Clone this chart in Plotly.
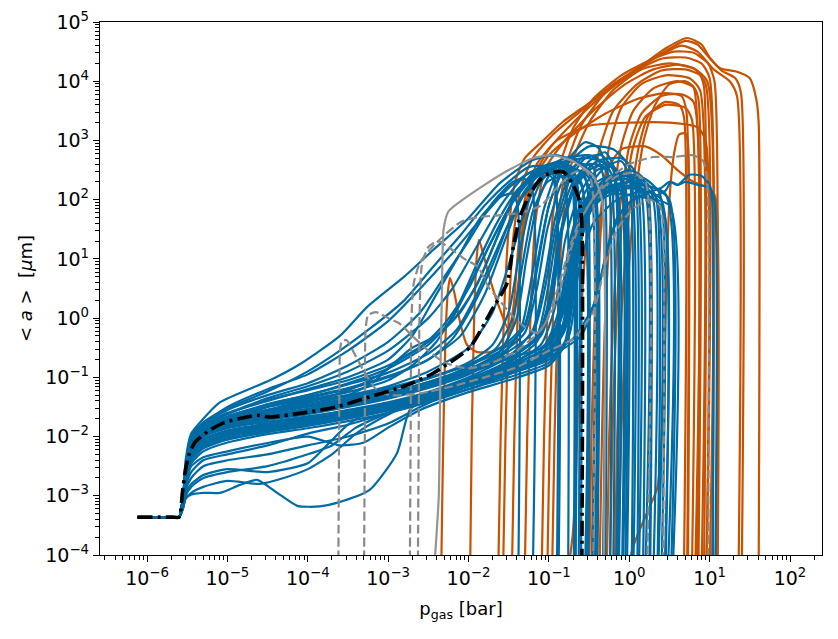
import plotly.graph_objects as go

BLUE = "#006BA4"
ORANGE = "#C85200"
GRAY = "#898989"

# All values are log10 exponents: [log10(p_gas / bar), log10(<a> / um)]
common_start = [[-6.12, -3.36], [-5.68, -3.36], [-5.6, -3.36]]

blue_upper = [
    [[-5.55,-3.0],[-5.52,-2.4],[-5.45,-1.95],[-5.3,-1.7],[-5.09,-1.42],[-4.47,-1.05],[-4.1,-0.78],[-3.6,-0.3],[-3.26,0.19],[-2.8,0.7],[-2.44,1.15],[-2.02,1.66],[-1.61,2.28],[-1.2,2.67],[-0.9,2.75],[-0.6,2.6],[-0.45,2.3],[-0.43,-4.3]],
    [[-5.55,-3.0],[-5.52,-2.5],[-5.45,-2.0],[-5.3,-1.78],[-5.0,-1.5],[-4.5,-1.2],[-4.0,-0.95],[-3.5,-0.55],[-3.0,-0.05],[-2.6,0.5],[-2.2,1.1],[-1.8,1.75],[-1.5,2.2],[-1.25,2.45],[-1.1,2.5],[-0.95,2.35],[-0.88,-4.3]],
    [[-5.55,-3.0],[-5.52,-2.5],[-5.45,-2.02],[-5.3,-1.8],[-5.0,-1.55],[-4.5,-1.3],[-4.0,-1.1],[-3.5,-0.8],[-3.0,-0.4],[-2.6,0.1],[-2.3,0.7],[-2.0,1.3],[-1.7,1.95],[-1.45,2.3],[-1.3,2.35],[-1.21,2.2],[-1.2,-4.3]],
    [[-5.55,-3.0],[-5.52,-2.6],[-5.45,-2.05],[-5.3,-1.82],[-5.0,-1.6],[-4.5,-1.4],[-4.0,-1.2],[-3.5,-1.0],[-3.0,-0.7],[-2.7,-0.3],[-2.4,0.4],[-2.1,1.1],[-1.85,1.7],[-1.6,2.05],[-1.45,2.1],[-1.39,1.9],[-1.38,-4.3]],
    [[-5.55,-3.0],[-5.52,-2.6],[-5.45,-2.08],[-5.3,-1.85],[-5.0,-1.62],[-4.5,-1.35],[-4.0,-1.15],[-3.5,-0.9],[-3.0,-0.55],[-2.5,0.0],[-2.2,0.5],[-1.9,1.2],[-1.6,1.9],[-1.3,2.4],[-1.0,2.6],[-0.7,2.65],[-0.5,2.5],[-0.35,2.1],[-0.33,-4.3]],
    [[-5.55,-3.0],[-5.52,-2.6],[-5.45,-2.1],[-5.3,-1.9],[-5.0,-1.7],[-4.5,-1.45],[-4.0,-1.3],[-3.5,-1.1],[-3.0,-0.85],[-2.5,-0.45],[-2.2,0.0],[-1.9,0.8],[-1.6,1.6],[-1.35,2.2],[-1.1,2.45],[-0.8,2.5],[-0.6,2.3],[-0.55,-4.3]],
    [[-5.55,-3.05],[-5.52,-2.7],[-5.45,-2.15],[-5.3,-1.92],[-5.0,-1.72],[-4.5,-1.5],[-4.0,-1.35],[-3.5,-1.2],[-3.0,-1.0],[-2.5,-0.7],[-2.1,-0.3],[-1.8,0.4],[-1.55,1.3],[-1.35,2.0],[-1.1,2.5],[-0.8,2.7],[-0.5,2.75],[-0.3,2.6],[-0.15,2.2],[-0.13,-4.3]],
    [[-5.55,-3.05],[-5.52,-2.7],[-5.45,-2.2],[-5.3,-2.0],[-5.0,-1.8],[-4.5,-1.55],[-4.0,-1.4],[-3.5,-1.3],[-3.0,-1.15],[-2.5,-0.9],[-2.0,-0.5],[-1.7,0.1],[-1.5,0.9],[-1.3,1.8],[-1.1,2.4],[-0.8,2.65],[-0.5,2.7],[-0.2,2.55],[-0.05,2.2],[-0.03,-4.3]],
    [[-5.55,-3.0],[-5.52,-2.55],[-5.45,-2.05],[-5.3,-1.83],[-5.0,-1.62],[-4.5,-1.38],[-4.0,-1.22],[-3.5,-1.05],[-3.0,-0.8],[-2.6,-0.5],[-2.3,-0.1],[-2.0,0.5],[-1.75,1.2],[-1.5,1.85],[-1.25,2.3],[-1.0,2.5],[-0.75,2.45],[-0.68,2.2],[-0.67,-4.3]],
    [[-5.55,-3.0],[-5.52,-2.6],[-5.45,-2.12],[-5.3,-1.9],[-5.0,-1.7],[-4.5,-1.5],[-4.0,-1.38],[-3.5,-1.25],[-3.0,-1.05],[-2.7,-0.8],[-2.4,-0.4],[-2.15,0.15],[-1.9,0.9],[-1.65,1.6],[-1.4,2.15],[-1.15,2.45],[-0.85,2.55],[-0.55,2.45],[-0.42,2.1],[-0.4,-4.3]],
    [[-5.55,-3.05],[-5.52,-2.65],[-5.45,-2.18],[-5.3,-1.97],[-5.0,-1.78],[-4.5,-1.6],[-4.0,-1.45],[-3.5,-1.3],[-3.2,-1.1],[-3.0,-0.85],[-2.7,-0.5],[-2.4,-0.3],[-2.1,0.1],[-1.85,0.7],[-1.6,1.5],[-1.4,2.1],[-1.15,2.5],[-0.9,2.6],[-0.7,2.5],[-0.64,2.2],[-0.63,-4.3]],
    [[-5.55,-3.0],[-5.52,-2.58],[-5.45,-2.06],[-5.3,-1.86],[-5.0,-1.66],[-4.5,-1.46],[-4.0,-1.3],[-3.5,-1.12],[-3.0,-0.92],[-2.5,-0.6],[-2.15,-0.2],[-1.9,0.4],[-1.7,1.0],[-1.5,1.6],[-1.3,2.1],[-1.05,2.4],[-0.8,2.45],[-0.6,2.25],[-0.53,-4.3]],
    [[-5.55,-3.0],[-5.52,-2.62],[-5.45,-2.1],[-5.3,-1.88],[-5.0,-1.68],[-4.5,-1.48],[-4.0,-1.33],[-3.5,-1.18],[-3.0,-0.98],[-2.5,-0.7],[-2.2,-0.35],[-1.95,0.2],[-1.7,0.9],[-1.5,1.6],[-1.3,2.15],[-1.05,2.5],[-0.8,2.6],[-0.6,2.45],[-0.47,2.1],[-0.46,-4.3]],
    [[-5.55,-3.0],[-5.52,-2.55],[-5.45,-2.0],[-5.3,-1.76],[-5.0,-1.52],[-4.5,-1.24],[-4.0,-0.9],[-3.6,-0.55],[-3.2,-0.15],[-2.8,0.3],[-2.45,0.85],[-2.1,1.4],[-1.8,1.9],[-1.5,2.3],[-1.25,2.55],[-1.0,2.55],[-0.92,2.3],[-0.9,-4.3]],
    [[-5.55,-3.05],[-5.52,-2.68],[-5.45,-2.17],[-5.3,-1.95],[-5.0,-1.76],[-4.5,-1.56],[-4.0,-1.42],[-3.5,-1.22],[-3.1,-0.95],[-2.8,-0.65],[-2.5,-0.4],[-2.2,-0.05],[-1.9,0.55],[-1.65,1.35],[-1.45,2.0],[-1.2,2.45],[-0.95,2.6],[-0.75,2.5],[-0.7,2.2],[-0.69,-4.3]],
]

blue_middle = [
    [[-5.55,-3.0],[-5.52,-2.6],[-5.45,-2.1],[-5.3,-1.9],[-5.0,-1.72],[-4.5,-1.6],[-4.0,-1.5],[-3.5,-1.38],[-3.0,-1.22],[-2.5,-1.02],[-2.0,-0.75],[-1.7,-0.45],[-1.5,0.1],[-1.38,1.0],[-1.25,1.8],[-1.1,2.3],[-0.95,2.5],[-0.82,2.35],[-0.77,1.9],[-0.76,-4.3]],
    [[-5.55,-3.0],[-5.52,-2.65],[-5.45,-2.15],[-5.3,-1.95],[-5.0,-1.8],[-4.5,-1.68],[-4.0,-1.58],[-3.5,-1.45],[-3.0,-1.3],[-2.5,-1.12],[-2.0,-0.88],[-1.6,-0.55],[-1.4,0.0],[-1.28,1.0],[-1.15,1.9],[-1.0,2.4],[-0.85,2.6],[-0.72,2.45],[-0.68,2.0],[-0.67,-4.3]],
    [[-5.55,-3.05],[-5.52,-2.7],[-5.45,-2.2],[-5.3,-2.0],[-5.0,-1.85],[-4.5,-1.72],[-4.0,-1.62],[-3.5,-1.5],[-3.0,-1.36],[-2.5,-1.18],[-2.0,-0.95],[-1.6,-0.65],[-1.35,-0.2],[-1.2,0.8],[-1.07,1.8],[-0.92,2.4],[-0.75,2.7],[-0.6,2.6],[-0.52,2.2],[-0.51,-4.3]],
    [[-5.55,-3.05],[-5.52,-2.7],[-5.45,-2.25],[-5.3,-2.05],[-5.0,-1.9],[-4.5,-1.78],[-4.0,-1.68],[-3.5,-1.55],[-3.0,-1.42],[-2.5,-1.25],[-2.0,-1.0],[-1.5,-0.65],[-1.2,-0.2],[-1.05,0.7],[-0.92,1.7],[-0.75,2.4],[-0.55,2.75],[-0.4,2.7],[-0.31,2.3],[-0.3,-4.3]],
    [[-5.55,-3.0],[-5.52,-2.6],[-5.45,-2.05],[-5.3,-1.85],[-5.0,-1.68],[-4.5,-1.55],[-4.0,-1.45],[-3.5,-1.32],[-3.0,-1.18],[-2.5,-1.0],[-2.0,-0.8],[-1.6,-0.55],[-1.3,-0.15],[-1.15,0.8],[-1.0,1.9],[-0.8,2.6],[-0.55,2.97],[-0.38,2.87],[-0.26,2.4],[-0.24,-4.3]],
    [[-5.55,-3.05],[-5.52,-2.75],[-5.45,-2.3],[-5.3,-2.1],[-5.0,-1.95],[-4.5,-1.82],[-4.0,-1.72],[-3.5,-1.6],[-3.0,-1.48],[-2.5,-1.3],[-2.0,-1.08],[-1.5,-0.75],[-1.15,-0.4],[-0.98,0.3],[-0.86,1.4],[-0.7,2.2],[-0.5,2.65],[-0.3,2.8],[-0.18,2.5],[-0.15,-4.3]],
    [[-5.55,-3.1],[-5.52,-2.8],[-5.45,-2.35],[-5.3,-2.15],[-5.0,-2.0],[-4.5,-1.87],[-4.0,-1.77],[-3.5,-1.65],[-3.0,-1.52],[-2.5,-1.35],[-2.0,-1.12],[-1.5,-0.8],[-1.1,-0.45],[-0.92,0.2],[-0.8,1.3],[-0.62,2.1],[-0.4,2.5],[-0.2,2.55],[-0.1,2.3],[-0.09,-4.3]],
    [[-5.55,-3.05],[-5.52,-2.7],[-5.45,-2.2],[-5.3,-2.0],[-5.0,-1.86],[-4.5,-1.75],[-4.0,-1.66],[-3.5,-1.56],[-3.0,-1.45],[-2.5,-1.28],[-2.0,-1.05],[-1.5,-0.78],[-1.05,-0.45],[-0.86,0.2],[-0.74,1.3],[-0.56,2.1],[-0.3,2.55],[-0.1,2.65],[0.0,2.4],[0.03,-4.3]],
    [[-5.55,-3.05],[-5.52,-2.75],[-5.45,-2.28],[-5.3,-2.1],[-5.0,-1.98],[-4.5,-1.86],[-4.0,-1.76],[-3.5,-1.64],[-3.0,-1.5],[-2.5,-1.32],[-2.0,-1.1],[-1.5,-0.85],[-1.0,-0.55],[-0.8,0.0],[-0.68,1.1],[-0.5,1.95],[-0.25,2.35],[0.0,2.45],[0.08,2.2],[0.1,-4.3]],
    [[-5.55,-3.1],[-5.52,-2.8],[-5.45,-2.4],[-5.3,-2.2],[-5.0,-2.05],[-4.5,-1.92],[-4.0,-1.82],[-3.5,-1.7],[-3.0,-1.56],[-2.5,-1.38],[-2.0,-1.15],[-1.5,-0.9],[-1.0,-0.62],[-0.78,-0.1],[-0.66,1.0],[-0.48,1.8],[-0.2,2.2],[0.05,2.3],[0.15,2.1],[0.17,-4.3]],
    [[-5.55,-3.05],[-5.52,-2.7],[-5.45,-2.18],[-5.3,-1.98],[-5.0,-1.82],[-4.5,-1.7],[-4.0,-1.6],[-3.5,-1.47],[-3.0,-1.33],[-2.5,-1.15],[-2.0,-0.92],[-1.5,-0.68],[-1.0,-0.45],[-0.82,0.1],[-0.7,1.2],[-0.5,2.0],[-0.25,2.35],[0.0,2.5],[0.15,2.4],[0.24,2.1],[0.26,-4.3]],
    [[-5.55,-3.0],[-5.52,-2.65],[-5.45,-2.12],[-5.3,-1.92],[-5.0,-1.76],[-4.5,-1.64],[-4.0,-1.54],[-3.5,-1.42],[-3.0,-1.27],[-2.5,-1.08],[-2.0,-0.82],[-1.65,-0.5],[-1.45,0.0],[-1.33,0.9],[-1.2,1.8],[-1.02,2.3],[-0.8,2.4],[-0.65,2.2],[-0.61,1.8],[-0.6,-4.3]],
    [[-5.55,-3.1],[-5.52,-2.85],[-5.45,-2.45],[-5.3,-2.25],[-5.0,-2.1],[-4.5,-1.96],[-4.0,-1.86],[-3.5,-1.74],[-3.0,-1.6],[-2.5,-1.42],[-2.0,-1.2],[-1.5,-0.95],[-1.0,-0.7],[-0.75,-0.3],[-0.63,0.8],[-0.45,1.6],[-0.15,2.0],[0.2,2.15],[0.4,2.0],[0.45,-4.3]],
    [[-5.55,-3.0],[-5.52,-2.62],[-5.45,-2.08],[-5.3,-1.88],[-5.0,-1.7],[-4.5,-1.58],[-4.0,-1.48],[-3.5,-1.35],[-3.0,-1.2],[-2.5,-1.02],[-2.0,-0.78],[-1.6,-0.5],[-1.3,-0.1],[-1.15,0.9],[-1.0,1.9],[-0.8,2.55],[-0.5,2.9],[-0.2,2.85],[0.0,2.55],[0.05,-4.3]],
    [[-5.55,-3.05],[-5.52,-2.72],[-5.45,-2.24],[-5.3,-2.04],[-5.0,-1.9],[-4.5,-1.8],[-4.0,-1.7],[-3.5,-1.58],[-3.0,-1.44],[-2.5,-1.26],[-2.0,-1.03],[-1.5,-0.72],[-1.15,-0.3],[-1.0,0.6],[-0.88,1.6],[-0.7,2.3],[-0.5,2.6],[-0.32,2.55],[-0.22,2.25],[-0.2,-4.3]],
    [[-5.55,-3.0],[-5.52,-2.68],[-5.45,-2.16],[-5.3,-1.96],[-5.0,-1.8],[-4.5,-1.68],[-4.0,-1.57],[-3.5,-1.44],[-3.0,-1.3],[-2.5,-1.12],[-2.0,-0.9],[-1.5,-0.62],[-1.1,-0.3],[-0.95,0.4],[-0.83,1.5],[-0.65,2.3],[-0.4,2.65],[-0.1,2.7],[0.08,2.45],[0.12,-4.3]],
    [[-5.55,-3.05],[-5.52,-2.78],[-5.45,-2.32],[-5.3,-2.12],[-5.0,-1.98],[-4.5,-1.85],[-4.0,-1.74],[-3.5,-1.62],[-3.0,-1.47],[-2.5,-1.3],[-2.0,-1.08],[-1.5,-0.82],[-1.1,-0.55],[-0.9,-0.1],[-0.78,0.9],[-0.6,1.7],[-0.35,2.1],[-0.15,2.2],[-0.06,2.0],[-0.05,-4.3]],
    [[-5.55,-3.05],[-5.52,-2.68],[-5.45,-2.18],[-5.3,-1.97],[-5.0,-1.83],[-4.5,-1.7],[-4.0,-1.6],[-3.5,-1.48],[-3.0,-1.34],[-2.5,-1.16],[-2.0,-0.93],[-1.5,-0.68],[-1.15,-0.35],[-1.0,0.3],[-0.88,1.3],[-0.72,2.1],[-0.5,2.5],[-0.25,2.6],[-0.1,2.4],[-0.08,-4.3]],
    [[-5.55,-3.05],[-5.52,-2.73],[-5.45,-2.26],[-5.3,-2.06],[-5.0,-1.92],[-4.5,-1.8],[-4.0,-1.7],[-3.5,-1.58],[-3.0,-1.45],[-2.5,-1.27],[-2.0,-1.04],[-1.5,-0.8],[-1.0,-0.5],[-0.85,0.0],[-0.73,1.0],[-0.56,1.9],[-0.3,2.35],[0.0,2.4],[0.18,2.25],[0.2,-4.3]],
    [[-5.55,-3.0],[-5.52,-2.62],[-5.45,-2.1],[-5.3,-1.9],[-5.0,-1.75],[-4.5,-1.63],[-4.0,-1.53],[-3.5,-1.4],[-3.0,-1.26],[-2.5,-1.08],[-2.0,-0.86],[-1.6,-0.6],[-1.3,-0.25],[-1.15,0.5],[-1.02,1.5],[-0.85,2.25],[-0.65,2.6],[-0.45,2.55],[-0.41,2.2],[-0.4,-4.3]],
    [[-5.55,-3.1],[-5.52,-2.77],[-5.45,-2.3],[-5.3,-2.1],[-5.0,-1.96],[-4.5,-1.84],[-4.0,-1.73],[-3.5,-1.61],[-3.0,-1.47],[-2.5,-1.29],[-2.0,-1.07],[-1.5,-0.83],[-1.0,-0.58],[-0.8,-0.15],[-0.7,0.8],[-0.55,1.7],[-0.3,2.1],[0.1,2.2],[0.33,2.05],[0.36,-4.3]],
    [[-5.55,-3.0],[-5.52,-2.66],[-5.45,-2.14],[-5.3,-1.94],[-5.0,-1.78],[-4.5,-1.66],[-4.0,-1.56],[-3.5,-1.43],[-3.0,-1.28],[-2.5,-1.1],[-2.0,-0.87],[-1.55,-0.6],[-1.2,-0.25],[-1.05,0.5],[-0.92,1.5],[-0.75,2.3],[-0.55,2.7],[-0.35,2.75],[-0.2,2.5],[-0.16,-4.3]],
    [[-5.55,-3.1],[-5.52,-2.82],[-5.45,-2.38],[-5.3,-2.18],[-5.0,-2.03],[-4.5,-1.9],[-4.0,-1.8],[-3.5,-1.68],[-3.0,-1.54],[-2.5,-1.36],[-2.0,-1.13],[-1.5,-0.88],[-1.0,-0.6],[-0.82,-0.2],[-0.7,0.9],[-0.52,1.75],[-0.25,2.15],[0.1,2.25],[0.45,2.1],[0.48,-4.3]],
]

blue_lower = [
    [[-5.55,-3.2],[-5.52,-3.05],[-5.45,-2.98],[-5.3,-2.95],[-5.09,-2.95],[-4.85,-2.82],[-4.63,-2.73],[-4.38,-2.95],[-4.13,-3.17],[-3.85,-3.18],[-3.64,-3.12],[-3.23,-2.9],[-2.89,-2.28],[-2.73,-1.55],[-2.5,-1.35],[-2.0,-1.15],[-1.5,-0.9],[-1.1,-0.62],[-0.88,-0.1],[-0.76,1.0],[-0.6,1.9],[-0.35,2.25],[-0.05,2.35],[0.15,2.2],[0.24,1.9],[0.25,-4.3]],
    [[-5.55,-3.2],[-5.52,-3.05],[-5.45,-2.95],[-5.3,-2.85],[-5.0,-2.75],[-4.6,-2.8],[-4.3,-2.7],[-4.0,-2.55],[-3.7,-2.3],[-3.4,-1.95],[-3.1,-1.7],[-2.8,-1.5],[-2.4,-1.3],[-2.0,-1.15],[-1.5,-0.95],[-1.1,-0.7],[-0.85,-0.3],[-0.72,0.8],[-0.6,1.8],[-0.4,2.3],[-0.1,2.45],[0.2,2.35],[0.38,2.1],[0.4,-4.3]],
    [[-5.55,-3.2],[-5.52,-3.0],[-5.45,-2.85],[-5.3,-2.7],[-5.0,-2.6],[-4.5,-2.5],[-4.0,-2.3],[-3.7,-2.15],[-3.4,-1.85],[-3.0,-1.6],[-2.5,-1.35],[-2.0,-1.15],[-1.5,-0.9],[-1.0,-0.6],[-0.8,-0.2],[-0.68,0.9],[-0.55,1.8],[-0.3,2.2],[0.0,2.3],[0.3,2.2],[0.5,2.0],[0.52,-4.3]],
    [[-5.55,-3.15],[-5.52,-2.95],[-5.45,-2.8],[-5.3,-2.65],[-5.0,-2.55],[-4.5,-2.6],[-4.0,-2.45],[-3.8,-2.2],[-3.5,-1.8],[-3.2,-1.55],[-2.8,-1.4],[-2.3,-1.2],[-1.8,-1.0],[-1.3,-0.8],[-0.95,-0.5],[-0.75,0.2],[-0.62,1.3],[-0.45,2.0],[-0.2,2.35],[0.1,2.3],[0.28,2.1],[0.3,-4.3]],
    [[-5.55,-3.15],[-5.52,-2.9],[-5.45,-2.7],[-5.3,-2.5],[-5.0,-2.4],[-4.5,-2.3],[-4.0,-2.15],[-3.5,-2.0],[-3.0,-1.78],[-2.6,-1.5],[-2.2,-1.25],[-1.8,-1.05],[-1.3,-0.85],[-1.0,-0.65],[-0.85,-0.3],[-0.75,0.6],[-0.62,1.6],[-0.4,2.2],[-0.1,2.4],[0.2,2.3],[0.33,2.05],[0.35,-4.3]],
    [[-5.55,-3.1],[-5.52,-2.85],[-5.45,-2.6],[-5.3,-2.4],[-5.0,-2.3],[-4.5,-2.15],[-4.0,-1.95],[-3.5,-1.8],[-3.0,-1.6],[-2.5,-1.4],[-2.0,-1.2],[-1.5,-1.0],[-1.0,-0.75],[-0.8,-0.4],[-0.7,0.5],[-0.58,1.5],[-0.4,2.1],[-0.1,2.25],[0.2,2.1],[0.42,1.85],[0.44,-4.3]],
    [[-5.55,-3.1],[-5.52,-2.8],[-5.45,-2.5],[-5.3,-2.35],[-5.0,-2.25],[-4.47,-2.1],[-4.0,-2.0],[-3.6,-2.15],[-3.3,-2.1],[-3.0,-1.85],[-2.6,-1.55],[-2.0,-1.25],[-1.5,-1.05],[-1.0,-0.8],[-0.8,-0.45],[-0.7,0.3],[-0.6,1.3],[-0.45,1.9],[-0.2,2.1],[0.1,2.05],[0.5,1.9],[0.54,-4.3]],
]

blue_right = [
    [[-5.55,-3.05],[-5.52,-2.75],[-5.45,-2.3],[-5.3,-2.12],[-5.0,-1.98],[-4.5,-1.86],[-4.0,-1.75],[-3.5,-1.62],[-3.0,-1.48],[-2.5,-1.3],[-2.0,-1.1],[-1.5,-0.85],[-1.0,-0.6],[-0.7,-0.35],[-0.45,0.2],[-0.3,1.0],[-0.15,1.7],[0.1,2.05],[0.3,2.05],[0.45,2.15],[0.52,2.3],[0.6,2.25],[0.75,2.42],[0.9,2.4],[1.0,2.25],[1.03,2.0],[1.04,-4.3]],
    [[-5.55,-3.1],[-5.52,-2.8],[-5.45,-2.35],[-5.3,-2.18],[-5.0,-2.05],[-4.5,-1.92],[-4.0,-1.8],[-3.5,-1.68],[-3.0,-1.54],[-2.5,-1.36],[-2.0,-1.15],[-1.5,-0.9],[-1.0,-0.65],[-0.6,-0.3],[-0.4,0.4],[-0.25,1.3],[-0.05,1.9],[0.2,2.1],[0.4,2.2],[0.5,2.3],[0.6,2.25],[0.7,2.3],[0.85,2.25],[1.0,2.2],[1.06,2.0],[1.07,-4.3]],
]

orange_lines = [
    [[-2.34,-4.3],[-2.32,-2.5],[-2.29,-0.5],[-2.26,0.4],[-2.23,0.68],[-2.18,0.45],[-2.1,-0.1],[-2.02,-0.45],[-1.9,-0.57],[-1.72,-0.57],[-1.55,-0.45],[-1.45,-0.1],[-1.38,0.6],[-1.3,1.6],[-1.2,2.3],[-1.0,2.75],[-0.7,3.1],[-0.3,3.45],[0.1,3.7],[0.45,3.8],[0.65,3.75],[0.71,3.5],[0.72,-4.3]],
    [[-1.98,-4.3],[-1.96,-2.0],[-1.93,0.0],[-1.9,1.0],[-1.87,1.32],[-1.82,1.1],[-1.72,0.6],[-1.61,0.15],[-1.5,-0.2],[-1.44,0.2],[-1.38,1.2],[-1.3,2.0],[-1.15,2.6],[-0.9,3.0],[-0.5,3.25],[0.0,3.3],[0.5,3.3],[0.85,3.22],[0.95,3.0],[0.96,-4.3]],
    [[-1.63,-4.3],[-1.6,-2.0],[-1.56,0.0],[-1.5,1.5],[-1.42,2.3],[-1.3,2.7],[-1.11,2.95],[-0.82,3.32],[-0.53,3.6],[-0.12,4.0],[0.22,4.33],[0.47,4.57],[0.72,4.73],[0.9,4.62],[1.0,4.4],[1.13,4.22],[1.34,4.16],[1.5,4.05],[1.58,3.7],[1.61,3.3],[1.61,-4.3]],
    [[-1.57,-4.3],[-1.54,-2.0],[-1.5,0.0],[-1.44,1.4],[-1.35,2.2],[-1.2,2.7],[-0.95,3.1],[-0.6,3.5],[-0.2,3.95],[0.2,4.3],[0.5,4.55],[0.7,4.68],[0.85,4.62],[0.98,4.42],[1.15,4.18],[1.32,4.05],[1.39,3.8],[1.4,-4.3]],
    [[-1.46,-4.3],[-1.43,-2.0],[-1.39,0.0],[-1.33,1.5],[-1.22,2.3],[-1.0,2.85],[-0.7,3.3],[-0.3,3.8],[0.1,4.2],[0.4,4.45],[0.65,4.6],[0.85,4.5],[1.05,4.2],[1.25,4.0],[1.34,3.75],[1.36,-4.3]],
    [[-1.3,-4.3],[-1.27,-2.0],[-1.23,0.0],[-1.17,1.6],[-1.05,2.5],[-0.8,3.0],[-0.45,3.5],[-0.05,3.95],[0.3,4.2],[0.6,4.28],[0.82,4.2],[0.95,3.95],[0.96,-4.3]],
    [[-1.09,-4.3],[-1.06,-2.0],[-1.02,0.0],[-0.96,1.6],[-0.86,2.6],[-0.7,3.2],[-0.45,3.7],[-0.1,4.1],[0.25,4.35],[0.55,4.5],[0.8,4.48],[0.98,4.3],[1.06,4.0],[1.08,-4.3]],
    [[-1.02,-4.3],[-0.99,-2.0],[-0.95,0.0],[-0.89,1.6],[-0.78,2.6],[-0.6,3.25],[-0.3,3.8],[0.05,4.15],[0.4,4.38],[0.7,4.4],[0.9,4.3],[1.0,4.05],[1.03,-4.3]],
    [[-0.96,-4.3],[-0.93,-2.0],[-0.89,0.0],[-0.83,1.6],[-0.72,2.6],[-0.5,3.3],[-0.2,3.85],[0.15,4.2],[0.5,4.3],[0.8,4.22],[0.97,4.0],[1.0,-4.3]],
    [[-0.76,-4.3],[-0.7,-3.6],[-0.66,-2.5],[-0.63,-1.0],[-0.58,0.5],[-0.5,1.8],[-0.38,2.8],[-0.2,3.5],[0.1,3.95],[0.4,4.18],[0.7,4.2],[0.88,4.1],[0.93,3.9],[0.93,-4.3]],
    [[-0.5,-4.3],[-0.47,-2.0],[-0.43,0.0],[-0.37,1.6],[-0.27,2.5],[-0.1,2.85],[0.2,2.9],[0.4,2.75],[0.6,2.5],[0.8,2.3],[0.95,2.22],[1.03,2.15],[1.08,2.0],[1.1,-4.3]],
    [[-0.47,-4.3],[-0.44,-2.0],[-0.4,0.0],[-0.34,1.8],[-0.25,2.9],[-0.1,3.55],[0.15,3.95],[0.45,4.1],[0.75,4.05],[0.88,3.85],[0.9,-4.3]],
    [[-0.37,-4.3],[-0.34,-2.0],[-0.3,0.0],[-0.22,1.8],[-0.1,2.9],[0.05,3.5],[0.3,3.88],[0.6,4.0],[0.8,3.9],[0.86,3.7],[0.86,-4.3]],
    [[-0.28,-4.3],[-0.25,-2.0],[-0.2,0.0],[-0.12,1.8],[0.0,2.9],[0.15,3.45],[0.4,3.75],[0.65,3.78],[0.8,3.65],[0.82,-4.3]],
    [[-0.24,-4.3],[-0.21,-2.0],[-0.16,0.0],[-0.08,1.8],[0.05,2.9],[0.2,3.4],[0.45,3.6],[0.7,3.55],[0.78,3.35],[0.78,-4.3]],
    [[-0.18,-4.3],[-0.15,-2.0],[-0.1,0.0],[0.0,1.8],[0.12,2.9],[0.25,3.45],[0.45,3.65],[0.62,3.6],[0.68,3.4],[0.68,-4.3]],
    [[-0.14,-4.3],[-0.1,-2.0],[-0.04,0.0],[0.05,1.8],[0.18,3.0],[0.32,3.6],[0.5,3.95],[0.7,4.0],[0.8,3.9],[0.84,-4.3]],
    [[-0.03,-4.3],[0.05,-3.85],[0.2,-3.35],[0.35,-2.86],[0.42,-1.5],[0.46,0.5],[0.5,2.0],[0.56,2.8],[0.62,3.1],[0.7,3.12],[0.73,2.95],[0.73,-4.3]],
]

gray_dashed_lines = [
    [[-3.62,-4.3],[-3.61,-2.0],[-3.6,-0.6],[-3.58,-0.4],[-3.52,-0.37],[-3.4,-0.65],[-3.28,-0.95],[-3.15,-1.2],[-2.98,-1.3],[-2.6,-1.27],[-2.2,-1.15],[-1.8,-1.0],[-1.4,-0.83],[-1.0,-0.55],[-0.7,-0.35],[-0.45,0.1],[-0.3,0.9],[-0.15,1.5],[0.05,1.85],[0.25,2.0],[0.38,1.9],[0.42,1.6],[0.42,-4.3]],
    [[-3.3,-4.3],[-3.29,-2.0],[-3.28,-0.2],[-3.25,0.05],[-3.15,0.1],[-3.0,0.0],[-2.85,-0.1],[-2.7,-0.3],[-2.5,-0.55],[-2.3,-0.75],[-2.0,-0.85],[-1.7,-0.75],[-1.4,-0.55],[-1.1,-0.2],[-0.9,0.3],[-0.73,1.15],[-0.55,1.8],[-0.3,2.3],[0.0,2.6],[0.3,2.72],[0.55,2.72],[0.8,2.75],[0.92,2.65],[0.97,2.3],[0.98,-4.3]],
    [[-2.73,-4.3],[-2.72,-2.0],[-2.71,0.0],[-2.68,0.6],[-2.6,0.95],[-2.45,1.2],[-2.3,1.4],[-2.1,1.62],[-1.9,1.7],[-1.6,1.74],[-1.35,1.78],[-1.1,1.9],[-0.9,2.2],[-0.7,2.45],[-0.55,2.5],[-0.47,2.3],[-0.45,-4.3]],
    [[-2.63,-4.3],[-2.62,-2.0],[-2.61,0.0],[-2.58,0.9],[-2.5,1.2],[-2.38,1.3],[-2.25,1.2],[-2.05,1.0],[-1.88,0.86],[-1.75,0.52],[-1.62,0.31],[-1.45,0.03],[-1.3,-0.15],[-1.15,-0.25],[-1.05,-0.1],[-0.9,0.45],[-0.75,1.15],[-0.6,1.7],[-0.4,2.1],[-0.15,2.4],[0.05,2.45],[0.2,2.3],[0.22,-4.3]],
]

gray_solid_line = [[-2.43,-4.3],[-2.4,-3.7],[-2.37,-3.0],[-2.35,-1.0],[-2.33,0.5],[-2.31,1.5],[-2.25,1.8],[-2.07,2.0],[-1.8,2.25],[-1.5,2.5],[-1.2,2.7],[-0.95,2.75],[-0.7,2.65],[-0.45,2.4],[-0.34,2.0],[-0.32,-4.3]]

black_logp = [-6.12,-5.68,-5.6,-5.56,-5.52,-5.47,-5.40,-5.25,-5.05,-4.76,-4.63,-4.47,-4.06,-3.64,-3.23,-2.8,-2.44,-1.98,-1.73,-1.52,-1.45,-1.36,-1.23,-1.1,-0.99,-0.82,-0.71,-0.62,-0.59,-0.59]
black_loga = [-3.36,-3.36,-3.36,-2.95,-2.55,-2.28,-2.09,-1.92,-1.77,-1.67,-1.64,-1.67,-1.60,-1.50,-1.33,-1.15,-0.93,-0.49,0.09,0.59,1.15,1.71,2.11,2.35,2.45,2.47,2.28,1.99,1.6,-4.3]

fig = go.Figure()


def add_line(points, color, width, dash="solid", prefix=True):
    pts = (common_start + points) if prefix else points
    fig.add_trace(go.Scatter(
        x=[10 ** p for p, a in pts], y=[10 ** a for p, a in pts],
        mode="lines", hoverinfo="skip", showlegend=False,
        line=dict(color=color, width=width, dash=dash, shape="spline", smoothing=0.6)))


for ln in orange_lines:
    add_line(ln, ORANGE, 2.2, prefix=False)
for group in (blue_upper, blue_middle, blue_lower, blue_right):
    for ln in group:
        add_line(ln, BLUE, 2.2)
for ln in gray_dashed_lines:
    add_line(ln, GRAY, 2.2, dash="9px,4px", prefix=False)
add_line(gray_solid_line, "#959595", 2.2, prefix=False)
fig.add_trace(go.Scatter(
    x=[10 ** p for p in black_logp], y=[10 ** a for a in black_loga],
    mode="lines", hoverinfo="skip", showlegend=False,
    line=dict(color="black", width=3.6, dash="15px,5px,3px,5px", shape="spline", smoothing=0.6)))

x_major = [-6, -5, -4, -3, -2, -1, 0, 1, 2]
y_major = [-4, -3, -2, -1, 0, 1, 2, 3, 4, 5]


def sup_label(k):
    s = str(k).replace("-", "\u2212")
    return "10<sup>" + s + "</sup>"


def minor_vals(lo, hi):
    vals = []
    for k in range(lo, hi + 1):
        for m in range(2, 10):
            vals.append(m * 10.0 ** k)
    return vals


tick_font = dict(family="DejaVu Sans", size=19, color="black")
title_font = dict(family="DejaVu Sans", size=18, color="black")
axis_common = dict(
    type="log", showgrid=False, zeroline=False, showline=True, linecolor="black",
    linewidth=1.3, mirror=True, ticks="outside", ticklen=6, tickwidth=1.3,
    tickcolor="black", tickfont=tick_font, automargin=False,
)
# the page body adds an 8 px offset, so the margins are shifted to place the
# plotting area at the same position as in the reference picture
fig.update_layout(
    width=838, height=639, plot_bgcolor="white", paper_bgcolor="white",
    margin=dict(l=92, r=24, t=14, b=92), font=title_font,
    xaxis=dict(**axis_common, range=[-6.585, 2.398],
               tickvals=[10.0 ** k for k in x_major],
               ticktext=[sup_label(k) for k in x_major],
               minor=dict(ticks="outside", ticklen=3.5, tickwidth=1, tickcolor="black",
                          tickvals=minor_vals(-7, 2), showgrid=False),
               title=dict(text="p<sub>gas</sub> [bar]", font=title_font, standoff=14)),
    yaxis=dict(**axis_common, range=[-4, 5],
               tickvals=[10.0 ** k for k in y_major],
               ticktext=[sup_label(k) for k in y_major],
               minor=dict(ticks="outside", ticklen=3.5, tickwidth=1, tickcolor="black",
                          tickvals=minor_vals(-4, 4), showgrid=False),
               title=dict(text="&lt; <i>a</i> &gt;  [<i>μ</i>m]", font=title_font, standoff=7)),
)

fig.write_html("out.html")
